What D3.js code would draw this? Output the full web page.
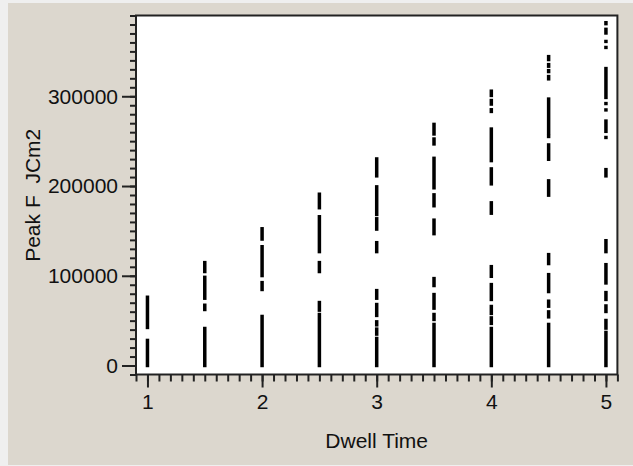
<!DOCTYPE html>
<html>
<head>
<meta charset="utf-8">
<script src="https://cdn.jsdelivr.net/npm/d3@7"></script>
<style>
  html, body { margin: 0; padding: 0; background: #efefef; }
  svg { display: block; }
  text { font-family: "Liberation Sans", Arial, sans-serif; fill: #111; }
</style>
</head>
<body>
<svg id="chart" width="633" height="466"></svg>
<script>
// ---- data ----
const dwellTimes = [1, 1.5, 2, 2.5, 3, 3.5, 4, 4.5, 5];
// Each column of points is drawn as runs of densely packed markers: [low, high] Peak F values
const peakRuns = [
  [[0, 28000], [42400, 76100]],
  [[0, 41300], [62400, 67200], [75000, 98300], [104700, 114700]],
  [[0, 54700], [84700, 92400], [100200, 132400], [140900, 152400]],
  [[0, 56900], [61700, 70200], [104700, 114700], [126900, 165800], [175800, 190900]],
  [[0, 30200], [35000, 40600], [45300, 48700], [55800, 68000], [75000, 83500],
   [126900, 136900], [152000, 163500], [168300, 199100], [211300, 230200]],
  [[0, 45800], [51300, 56900], [63900, 79100], [89100, 96900], [146900, 162000],
   [178000, 190200], [198000, 230900], [246900, 252400], [258000, 268700]],
  [[0, 41300], [46900, 53100], [58000, 65800], [73600, 90200], [99400, 110200],
   [169700, 181300], [202400, 219100], [228300, 263500], [283100, 285000],
   [291300, 295300], [300900, 305700]],
  [[0, 45800], [54200, 59800], [66100, 71700], [82400, 101300], [113600, 123600],
   [189800, 205800], [229800, 245800], [255200, 255200], [258700, 296900],
   [319400, 322000], [327500, 328600], [333500, 335300], [340900, 344200]],
  [[0, 36900], [41700, 50200], [60200, 66400], [73600, 81300], [92000, 112400],
   [126900, 139100], [211300, 218300], [254100, 254100], [260900, 272400],
   [284800, 284800], [291900, 291900], [298700, 330900], [354400, 354400],
   [361100, 361100], [370500, 374600], [380900, 382000]]
];
const xTicks = [1, 2, 3, 4, 5];
const yTicks = [0, 100000, 200000, 300000];
const xTitle = "Dwell Time";
const yTitle = "Peak F  JCm2";

// ---- layout ----
const svg = d3.select("#chart");
const plot = { left: 136, right: 617.4, top: 15.5, bottom: 374.5 };

const x = d3.scaleLinear().domain([0.9, 5.1]).range([plot.left, plot.right]);
const y = d3.scaleLinear().domain([-10000, 390000]).range([plot.bottom, plot.top]);

// panel background
svg.append("rect").attr("x", 8).attr("y", 3).attr("width", 625).attr("height", 462)
  .attr("fill", "#dcd7ce");

// plot area
svg.append("rect")
  .attr("x", plot.left).attr("y", plot.top)
  .attr("width", plot.right - plot.left).attr("height", plot.bottom - plot.top)
  .attr("fill", "#ffffff");

// markers
const half = 1.7;
const cols = svg.append("g").selectAll("g").data(dwellTimes).join("g");
cols.selectAll("rect")
  .data((d, i) => peakRuns[i].map(r => ({ t: d, lo: r[0], hi: r[1] })))
  .join("rect")
  .attr("x", d => x(d.t) - 1.75)
  .attr("width", 3.5)
  .attr("y", d => y(d.hi) - half)
  .attr("height", d => y(d.lo) - y(d.hi) + 2 * half)
  .attr("fill", "#000");

// frame
svg.append("rect")
  .attr("x", plot.left).attr("y", plot.top)
  .attr("width", plot.right - plot.left).attr("height", plot.bottom - plot.top)
  .attr("fill", "none").attr("stroke", "#222").attr("stroke-width", 2);

// y axis
const yAxis = d3.axisLeft(y).tickValues(yTicks).tickSize(14).tickPadding(4)
  .tickFormat(d3.format("d"));
const yMinor = d3.axisLeft(y).tickValues(d3.range(-10000, 390001, 10000)).tickSize(6).tickFormat("");
const gyMinor = svg.append("g").attr("transform", `translate(${plot.left},0)`).call(yMinor);
const gy = svg.append("g").attr("transform", `translate(${plot.left},0)`).call(yAxis);

// x axis
const xAxis = d3.axisBottom(x).tickValues(xTicks).tickSize(13).tickPadding(7)
  .tickFormat(d3.format("d"));
const xMinor = d3.axisBottom(x).tickValues(d3.range(9, 52).map(v => v / 10)).tickSize(7).tickFormat("");
const gxMinor = svg.append("g").attr("transform", `translate(0,${plot.bottom})`).call(xMinor);
const gx = svg.append("g").attr("transform", `translate(0,${plot.bottom})`).call(xAxis);

[gy, gyMinor, gx, gxMinor].forEach(g => {
  g.select(".domain").remove();
  g.selectAll(".tick line").attr("stroke", "#222").attr("stroke-width", 2);
  g.selectAll(".tick text").attr("font-size", 21).attr("fill", "#111")
    .style("font-family", '"Liberation Sans", Arial, sans-serif');
});

// titles
svg.append("text")
  .attr("x", (plot.left + plot.right) / 2).attr("y", 448)
  .attr("text-anchor", "middle").attr("font-size", 21)
  .text(xTitle);

svg.append("text")
  .attr("transform", "translate(39.5,195.3) rotate(-90)")
  .attr("text-anchor", "middle").attr("font-size", 21)
  .style("white-space", "pre")
  .text(yTitle);
</script>
</body>
</html>
